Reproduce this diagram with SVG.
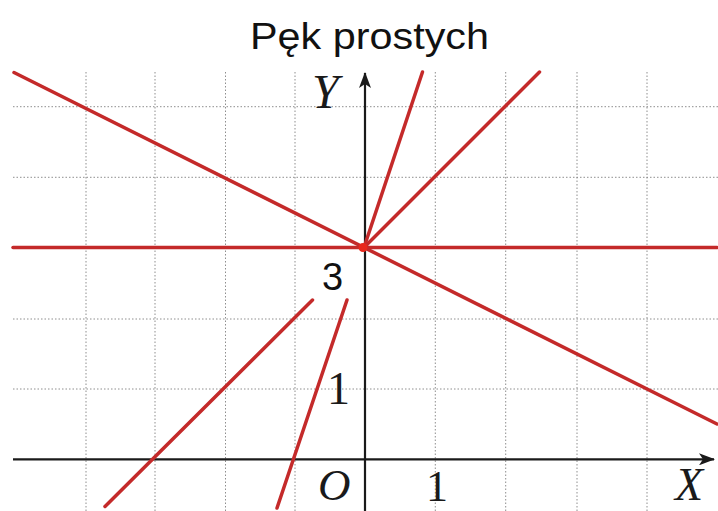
<svg xmlns="http://www.w3.org/2000/svg" width="718" height="511" viewBox="0 0 718 511">
<defs>
<style>
.grid{stroke:#7a7a7a;stroke-width:1;stroke-dasharray:1.5 2;fill:none;opacity:0.85}
.axis{stroke:#1a1a1a;stroke-width:2.2;fill:none}
.red{stroke:#c42a2a;stroke-width:3.5;fill:none;stroke-linecap:round}
.lab{font-family:"Liberation Serif","Times New Roman",serif;fill:#1a1a1a}
.it{font-style:italic}
.sans{font-family:"Liberation Sans",Arial,sans-serif;fill:#111}
</style>
<marker id="arr" viewBox="0 0 16 12" refX="15" refY="6" markerWidth="16" markerHeight="12" markerUnits="userSpaceOnUse" orient="auto">
<path d="M0,0 L16,6 L0,12 L4,6 Z" fill="#1a1a1a"/>
</marker>
</defs>
<rect width="718" height="511" fill="#ffffff"/>
<g id="grid">
<line class="grid" x1="86" y1="72" x2="86" y2="511"/>
<line class="grid" x1="155" y1="72" x2="155" y2="511"/>
<line class="grid" x1="225.5" y1="72" x2="225.5" y2="511"/>
<line class="grid" x1="295" y1="72" x2="295" y2="511"/>
<line class="grid" x1="435.3" y1="72" x2="435.3" y2="511"/>
<line class="grid" x1="505.7" y1="72" x2="505.7" y2="511"/>
<line class="grid" x1="577" y1="72" x2="577" y2="511"/>
<line class="grid" x1="647" y1="72" x2="647" y2="511"/>
<line class="grid" x1="13" y1="106.7" x2="718" y2="106.7"/>
<line class="grid" x1="13" y1="177.3" x2="718" y2="177.3"/>
<line class="grid" x1="13" y1="319" x2="718" y2="319"/>
<line class="grid" x1="13" y1="389" x2="718" y2="389"/>
</g>
<g id="axes">
<line id="x-axis" class="axis" x1="13" y1="459.3" x2="714" y2="459.3" marker-end="url(#arr)"/>
<line id="y-axis" class="axis" x1="365" y1="511" x2="365" y2="73" marker-end="url(#arr)"/>
</g>
<g id="connectors">
<line class="red" x1="13" y1="247.5" x2="717" y2="247.5"/>
<line class="red" x1="14" y1="72.5" x2="717" y2="424"/>
<line class="red" x1="364" y1="247.5" x2="422.5" y2="72"/>
<line class="red" x1="364" y1="247.5" x2="539.5" y2="72"/>
<line class="red" x1="347" y1="300" x2="277" y2="508"/>
<line class="red" x1="312.5" y1="300" x2="105" y2="506.5"/>
</g>
<g id="center-point">
<circle cx="363" cy="247.5" r="4.5" fill="#e8281c"/>
</g>
<g id="labels">
<text class="sans" x="250" y="48.5" font-size="37" textLength="239" lengthAdjust="spacingAndGlyphs">Pęk prostych</text>
<text class="lab it" x="312" y="108" font-size="48">Y</text>
<text class="lab it" x="675" y="500" font-size="46">X</text>
<text class="lab it" x="318" y="500" font-size="45">O</text>
<text class="lab" x="426" y="501" font-size="44">1</text>
<text class="lab" x="327" y="404" font-size="46">1</text>
<text class="sans" x="322" y="290" font-size="38">3</text>
</g>
</svg>
